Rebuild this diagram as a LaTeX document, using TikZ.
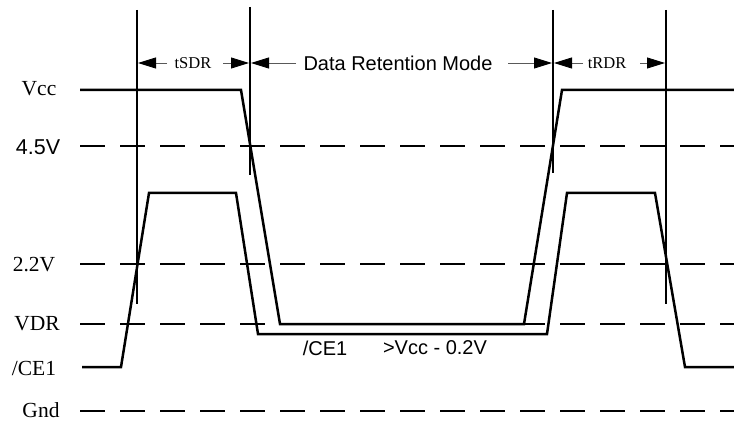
\documentclass[tikz,border=0pt]{standalone}
\usepackage{fontspec}
\setmainfont{Liberation Serif}
\setsansfont{Liberation Sans}
\usetikzlibrary{arrows.meta}

\begin{document}
\begin{tikzpicture}[x=1pt,y=-1pt,
  signal/.style={line width=2.5pt,line join=miter},
  level/.style={line width=2.5pt,dash pattern=on 25pt off 15pt},
  marker/.style={line width=2.2pt},
  dim/.style={line width=0.9pt,black!65,-{Triangle[length=18pt,width=11pt,black]}},
  seriflabel/.style={inner sep=0pt,font=\fontsize{21.5}{21.5}\selectfont},
  sanslabel/.style={inner sep=0pt,font=\sffamily\fontsize{21.5}{21.5}\selectfont},
  smalllabel/.style={inner sep=0pt,font=\fontsize{16.5}{16.5}\selectfont},
  note/.style={inner sep=0pt,font=\sffamily\fontsize{20}{20}\selectfont}]

\useasboundingbox (0,0) rectangle (734,422);

% reference levels
\coordinate (l45a) at (80,146);  \coordinate (l45b) at (734,146);
\coordinate (l22a) at (80,264);  \coordinate (l22b) at (734,264);
\coordinate (lvdra) at (80,324); \coordinate (lvdrb) at (734,324);
\coordinate (lgnda) at (80,411); \coordinate (lgndb) at (734,411);
\draw[level] (l45a) -- (l45b);
\draw[level] (l22a) -- (l22b);
\draw[level] (lvdra) -- (lvdrb);
\draw[level] (lgnda) -- (lgndb);

% timing markers
\coordinate (m1t) at (137,10);  \coordinate (m1b) at (137,304);
\coordinate (m2t) at (250,7);   \coordinate (m2b) at (250,175);
\coordinate (m3t) at (553,10);  \coordinate (m3b) at (553,173);
\coordinate (m4t) at (666,10);  \coordinate (m4b) at (666,304);
\draw[marker] (m1t) -- (m1b);
\draw[marker] (m2t) -- (m2b);
\draw[marker] (m3t) -- (m3b);
\draw[marker] (m4t) -- (m4b);

% supply voltage
\coordinate (v0) at (80,90);
\coordinate (v1) at (241,90);
\coordinate (v2) at (280,324);
\coordinate (v3) at (524,324);
\coordinate (v4) at (562,90);
\coordinate (v5) at (734,90);
\draw[signal] (v0) -- (v1) -- (v2) -- (v3) -- (v4) -- (v5);

% chip enable
\coordinate (c0) at (82,367);
\coordinate (c1) at (121,367);
\coordinate (c2) at (149,193);
\coordinate (c3) at (236,193);
\coordinate (c4) at (258,334);
\coordinate (c5) at (547,334);
\coordinate (c6) at (567,193);
\coordinate (c7) at (655,193);
\coordinate (c8) at (685,367);
\coordinate (c9) at (734,367);
\draw[signal] (c0) -- (c1) -- (c2) -- (c3) -- (c4) -- (c5) -- (c6) -- (c7) -- (c8) -- (c9);

% interval arrows
\coordinate (a1) at (167,63);  \coordinate (a1t) at (138,63);
\coordinate (a2) at (223,63);  \coordinate (a2t) at (249,63);
\coordinate (a3) at (296,63);  \coordinate (a3t) at (251,63);
\coordinate (a4) at (508,63);  \coordinate (a4t) at (552,63);
\coordinate (a5) at (583,63);  \coordinate (a5t) at (554,63);
\coordinate (a6) at (640,63);  \coordinate (a6t) at (665,63);
\draw[dim] (a1) -- (a1t);
\draw[dim] (a2) -- (a2t);
\draw[dim] (a3) -- (a3t);
\draw[dim] (a4) -- (a4t);
\draw[dim] (a5) -- (a5t);
\draw[dim] (a6) -- (a6t);

\node[smalllabel] (tsdr) at (193,63) {tSDR};
\node[note] (drm) at (398,63) {Data Retention Mode};
\node[smalllabel] (trdr) at (607,63) {tRDR};

% level names
\node[seriflabel] (lvcc) at (39,89) {Vcc};
\node[sanslabel] (l45) at (38,147) {4.5V};
\node[seriflabel] (l22) at (34,265) {2.2V};
\node[seriflabel] (lvdr) at (37,324) {VDR};
\node[seriflabel] (lce) at (34,368) {/CE1};
\node[seriflabel] (lgnd) at (41,410) {Gnd};

% retention condition
\node[note] (nce) at (325,348) {/CE1};
\node[note] (ncond) at (435,348) {>Vcc - 0.2V};

\end{tikzpicture}
\end{document}
